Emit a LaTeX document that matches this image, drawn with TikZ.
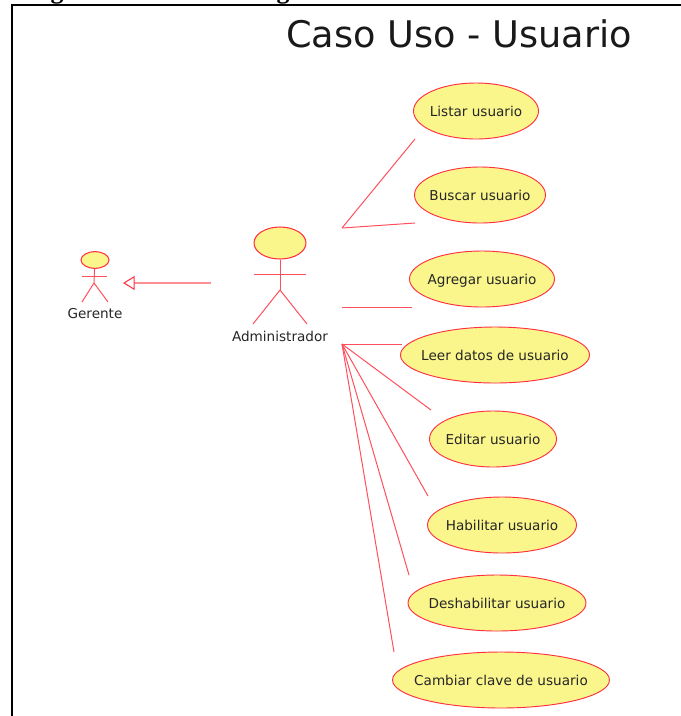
\documentclass[tikz,border=0pt]{standalone}
\usepackage{fontspec}
\setmainfont{DejaVu Sans}
\newfontfamily\capfont{Liberation Serif}
\usetikzlibrary{shapes.geometric, arrows.meta, positioning}
\definecolor{umlfill}{HTML}{FAF68C}
\definecolor{umlline}{HTML}{FF3040}

\begin{document}
\begin{tikzpicture}[x=0.03cm, y=-0.03cm,
		usecase/.style={ellipse, draw=umlline, fill=umlfill, line width=0.8pt, inner xsep=-0.5cm, inner ysep=0pt, minimum height=1.68cm, text height=8.8pt, text depth=0pt, font=\fontsize{11.6}{14}\selectfont, text=black!85},
		head/.style={ellipse, draw=umlline, fill=umlfill, line width=0.9pt, inner sep=0pt},
		stick/.style={draw=umlline!85, line width=0.85pt},
		assoc/.style={draw=umlline!85, line width=0.85pt},
		actorname/.style={font=\fontsize{11.6}{14}\selectfont, text=black!85},
		captext/.style={font=\capfont\bfseries\fontsize{22}{24}\selectfont, inner sep=0pt, anchor=base},
		frameline/.style={draw=black, line width=1.7pt}]
	\useasboundingbox (0,0) rectangle (681,716);

	% frame and title
	\coordinate (fa) at (12,716);
	\coordinate (fb) at (12,5);
	\coordinate (fc) at (681,5);
	\draw[frameline] (fa) -- (fb) -- (fc);
	\node[captext] (capa) at (57,-2) {g};
	\node[captext] (capb) at (283,-2) {g};
	\node[font=\fontsize{31.3}{36}\selectfont, text=black!90, inner sep=0pt] (title) at (459,34) {Caso Uso - Usuario};

	% use cases
	\node[usecase, minimum width=3.75cm] (listar) at (476,111) {Listar usuario};
	\node[usecase, minimum width=3.93cm] (buscar) at (480,195) {Buscar usuario};
	\node[usecase, minimum width=4.35cm] (agregar) at (482,279) {Agregar usuario};
	\node[usecase, minimum width=5.67cm] (leer) at (495,355) {Leer datos de usuario};
	\node[usecase, minimum width=3.81cm] (editar) at (493,439) {Editar usuario};
	\node[usecase, minimum width=4.47cm] (habilitar) at (502,525) {Habilitar usuario};
	\node[usecase, minimum width=5.34cm] (deshabilitar) at (497,603) {Deshabilitar usuario};
	\node[usecase, minimum width=6.51cm] (cambiar) at (501,680) {Cambiar clave de usuario};

	% actors
	\node[head, minimum width=1.56cm, minimum height=0.96cm] (adminhead) at (280,243) {};
	\node[actorname] (admin) at (280,336) {Administrador};
	\node[head, minimum width=0.84cm, minimum height=0.5cm] (gerentehead) at (95,260) {};
	\node[actorname] (gerente) at (95,314) {Gerente};

	\coordinate (adminhip) at (280,290);
	\coordinate (adminarml) at (254,274);
	\coordinate (adminarmr) at (306,274);
	\coordinate (adminlegl) at (253,324);
	\coordinate (adminlegr) at (307,324);
	\coordinate (gerentehip) at (94,283);
	\coordinate (gerentearml) at (82,276);
	\coordinate (gerentearmr) at (107,276);
	\coordinate (gerentelegl) at (82,302);
	\coordinate (gerentelegr) at (108,302);

	\path[stick]
	(adminhead) edge (adminhip)
	(adminarml) edge (adminarmr)
	(adminhip) edge (adminlegl)
	(adminhip) edge (adminlegr)
	(gerentehead) edge (gerentehip)
	(gerentearml) edge (gerentearmr)
	(gerentehip) edge (gerentelegl)
	(gerentehip) edge (gerentelegr);

	% connector ends
	\coordinate (herfrom) at (211,283);
	\coordinate (herto) at (123,283);
	\coordinate (s1) at (342,228);
	\coordinate (s2) at (342,307);
	\coordinate (s3) at (342,344);
	\coordinate (e1) at (415,139);
	\coordinate (e2) at (415,223);
	\coordinate (e3) at (412,307);
	\coordinate (e4) at (402,344);
	\coordinate (e5) at (431,410);
	\coordinate (e6) at (428,496);
	\coordinate (e7) at (409,575);
	\coordinate (e8) at (394,652);

	\draw[draw=umlline!55, line width=1.5pt, -{Triangle[open, length=10pt, width=12pt, color=umlline, line width=0.9pt]}] (herfrom) -- (herto);
	\path[assoc]
	(s1) edge (e1)
	(s1) edge (e2)
	(s2) edge (e3)
	(s3) edge (e4)
	(s3) edge (e5)
	(s3) edge (e6)
	(s3) edge (e7)
	(s3) edge (e8);
\end{tikzpicture}
\end{document}
